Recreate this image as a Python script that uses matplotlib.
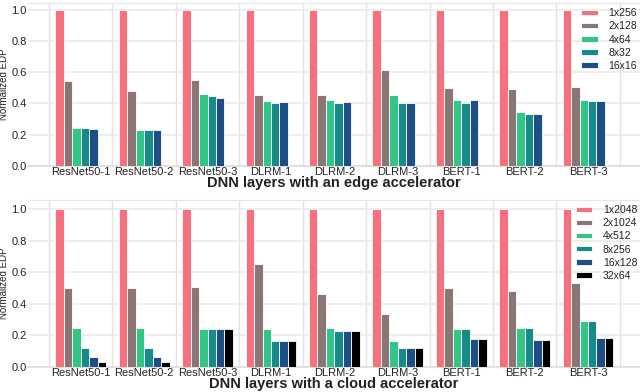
import numpy as np
import matplotlib
matplotlib.use('Agg')
import matplotlib.pyplot as plt
from matplotlib.ticker import MultipleLocator

plt.rcParams['font.family'] = ['Liberation Sans', 'DejaVu Sans']

layers = ['ResNet50-1', 'ResNet50-2', 'ResNet50-3', 'DLRM-1', 'DLRM-2',
          'DLRM-3', 'BERT-1', 'BERT-2', 'BERT-3']

# edge accelerator, normalized EDP per array shape
edge_shapes = ['1x256', '2x128', '4x64', '8x32', '16x16']
edge_1x256 = [1.0, 1.0, 1.0, 1.0, 1.0, 1.0, 1.0, 1.0, 1.0]
edge_2x128 = [0.542, 0.477, 0.547, 0.452, 0.454, 0.615, 0.501, 0.490, 0.505]
edge_4x64 = [0.243, 0.232, 0.463, 0.417, 0.422, 0.454, 0.422, 0.345, 0.422]
edge_8x32 = [0.243, 0.232, 0.446, 0.404, 0.405, 0.405, 0.405, 0.332, 0.418]
edge_16x16 = [0.238, 0.232, 0.433, 0.410, 0.411, 0.405, 0.422, 0.332, 0.418]

# cloud accelerator
cloud_shapes = ['1x2048', '2x1024', '4x512', '8x256', '16x128', '32x64']
cloud_1x2048 = [1.0, 1.0, 1.0, 1.0, 1.0, 1.0, 1.0, 1.0, 1.0]
cloud_2x1024 = [0.497, 0.497, 0.503, 0.651, 0.461, 0.332, 0.497, 0.480, 0.533]
cloud_4x512 = [0.249, 0.249, 0.243, 0.237, 0.249, 0.167, 0.243, 0.249, 0.290]
cloud_8x256 = [0.120, 0.120, 0.237, 0.163, 0.226, 0.118, 0.243, 0.249, 0.290]
cloud_16x128 = [0.061, 0.061, 0.237, 0.163, 0.226, 0.118, 0.178, 0.173, 0.184]
cloud_32x64 = [0.032, 0.032, 0.237, 0.163, 0.226, 0.118, 0.178, 0.173, 0.184]

colors = ['#f7707e', '#8a7775', '#34c486', '#178a8a', '#1d4e85', '#000000']

edge_vals = [edge_1x256, edge_2x128, edge_4x64, edge_8x32, edge_16x16]
cloud_vals = [cloud_1x2048, cloud_2x1024, cloud_4x512, cloud_8x256,
              cloud_16x128, cloud_32x64]

fig = plt.figure(figsize=(6.4, 3.92), dpi=100)
ax1 = fig.add_axes([0.044, 0.577, 0.956, 0.415])
ax2 = fig.add_axes([0.044, 0.064, 0.956, 0.426])

x = np.arange(len(layers))
w = 0.8 / 6


def draw(ax, shapes, vals, xlabel, top):
    for i, (name, v) in enumerate(zip(shapes, vals)):
        ax.bar(x + (i - 2.5) * w, v, w, color=colors[i], label=name,
               edgecolor='white', linewidth=0.6, zorder=3)
    ax.set_xticks(x)
    ax.set_xticklabels(layers, fontsize=8, color='#222222')
    ax.xaxis.set_minor_locator(MultipleLocator(1, offset=0.5))
    ax.set_xlim(-0.83, 8.82)
    ax.set_ylim(0, top)
    ax.set_yticks([0, 0.2, 0.4, 0.6, 0.8, 1.0])
    ax.set_yticklabels(['0.0', '0.2', '0.4', '0.6', '0.8', '1.0'], fontsize=8,
                       color='#222222')
    ax.tick_params(axis='both', which='both', length=0, pad=1)
    ax.grid(True, axis='y', color='#ebebeb', linewidth=1.2, zorder=0)
    ax.grid(True, axis='x', which='minor', color='#e3e3e3', linewidth=1.0, zorder=0)
    ax.set_ylabel('Normalized EDP', fontsize=7, color='#222222')
    ax.yaxis.set_label_coords(-0.031, 0.5)
    ax.set_xlabel(xlabel, fontsize=10.5, fontweight='bold', color='#222222',
                  labelpad=-1)
    for s in ['left', 'right']:
        ax.spines[s].set_visible(False)
    ax.spines['top'].set_color('#e6e6e6')
    ax.spines['bottom'].set_color('#dddddd')
    ax.spines['bottom'].set_linewidth(1.2)
    ax.legend(loc='upper right', frameon=False, fontsize=7.5, handlelength=1.6,
              handleheight=0.4, labelspacing=0.3, borderaxespad=0.1,
              handletextpad=1.0, labelcolor='#222222',
              bbox_to_anchor=(1.004, 1.0))


draw(ax1, edge_shapes, edge_vals, 'DNN layers with an edge accelerator', 1.042)
draw(ax2, cloud_shapes, cloud_vals, 'DNN layers with a cloud accelerator', 1.057)

fig.savefig('out.png', dpi=100)
